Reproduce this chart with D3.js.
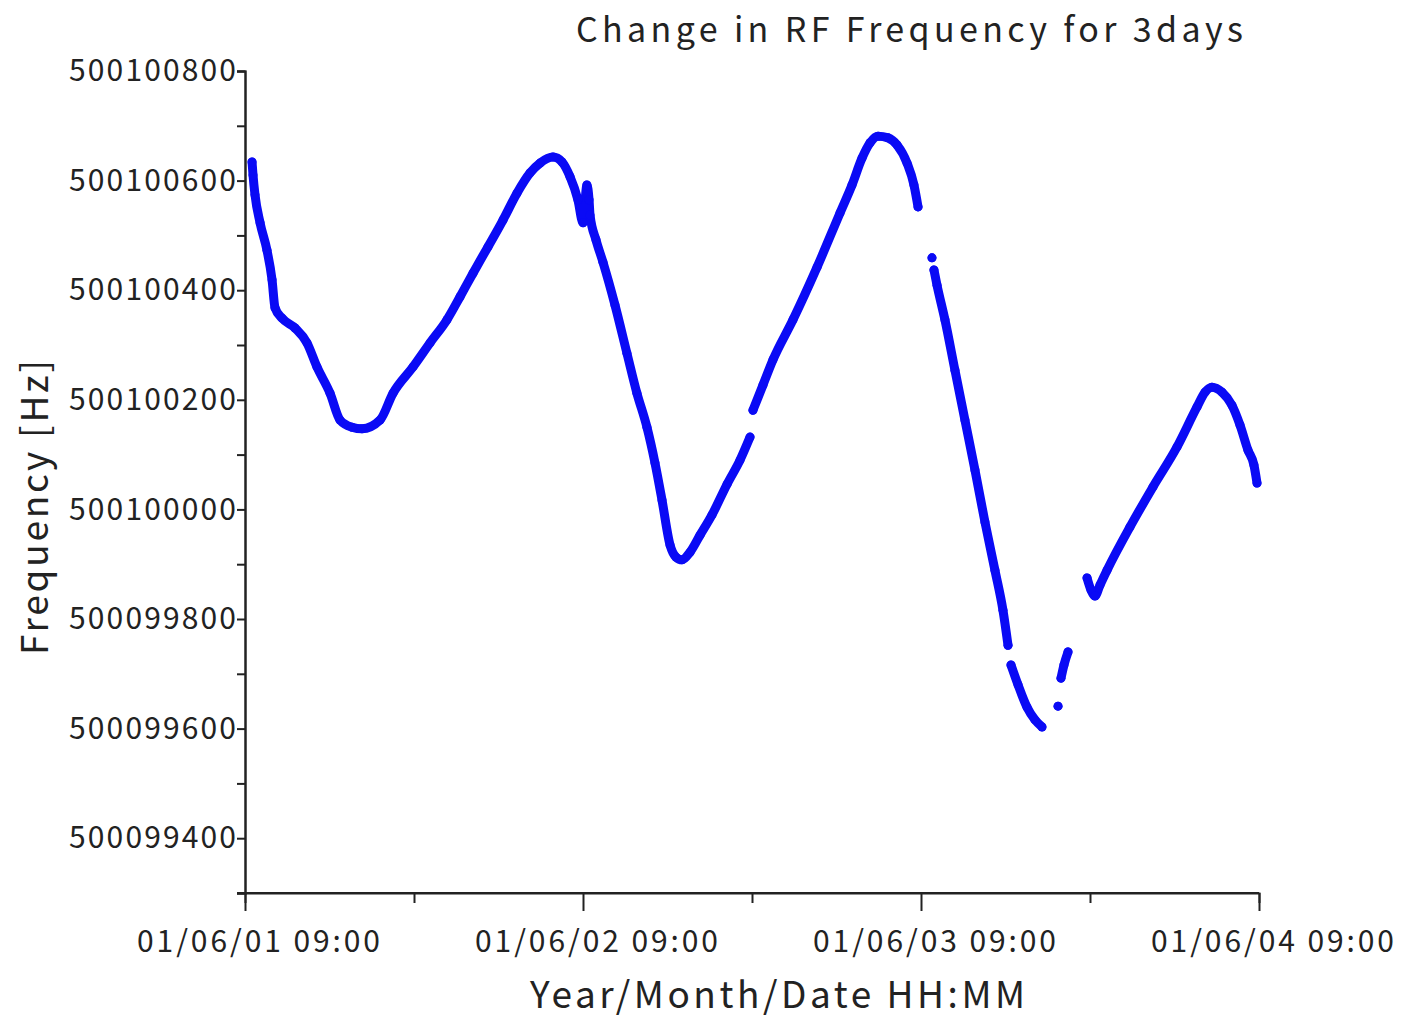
<!DOCTYPE html>
<meta charset="utf-8">
<body style="margin:0;background:#fff">
<div id="chart"></div>
<style>
  text { font-family: "Noto Sans CJK JP", "Noto Sans", sans-serif; fill: #222; }
  .tick text { font-size: 30px; }
  .domain, .tick line { stroke: #222; stroke-width: 2; }
</style>
<script src="https://cdn.jsdelivr.net/npm/d3@7"></script>
<script>
    // hours after 01/06/01 09:00, and measured RF frequency [Hz]; null = gap in the record
    var hours = [0.50, 0.57, 0.71, 1.07, 1.56, 1.92, 2.13, 2.63, 3.55, 4.40, 5.11, 6.04, 6.75, 7.60, 8.31,
                 9.59, 10.51, 11.93, 13.14, 14.34, 15.27, 16.19, 17.25, 18.32, 19.31, 20.24, 20.95, 21.87,
                 22.51, 23.08, 23.64, 24.00, 24.28, 24.43, 24.50, 24.92, 25.42, 26.27, 27.12, 27.83, 28.54,
                 29.11, 29.61, 30.18, 30.60, 31.03, 31.60, 32.31, 33.16, 34.23, 35.15, 35.86,
                 35.95,
                 36.07, 36.78, 37.49, 38.91, 40.62, 42.25, 43.10, 43.81, 44.38, 44.95, 45.66, 46.30, 47.01,
                 47.50, 47.79,
                 48.30,
                 48.78,
                 48.85,
                 48.92, 49.14, 49.70, 50.41, 51.12, 51.83, 52.54, 53.25, 53.82, 54.18,
                 54.28,
                 54.39, 54.89, 55.53, 56.09, 56.59,
                 57.20,
                 57.73,
                 57.85,
                 57.94, 58.15, 58.44,
                 59.10,
                 59.79, 60.07, 60.36, 60.71, 61.21, 62.84, 64.47, 66.18, 67.60, 68.17, 68.66, 69.37, 70.08,
                 70.65, 71.22, 71.64, 71.86];
    var freqs = [500100634, 500100610, 500100574, 500100523, 500100473, 500100419, 500100368, 500100349,
                 500100331, 500100304, 500100260, 500100212, 500100163, 500100150, 500100147,
                 500100163, 500100212, 500100260, 500100304, 500100346, 500100388, 500100431, 500100479,
                 500100528, 500100577, 500100614, 500100632, 500100643, 500100634, 500100607, 500100565,
                 500100523, 500100592, 500100565, 500100537, 500100492, 500100451, 500100373, 500100285,
                 500100212, 500100150, 500100085, 500100017, 500099935, 500099913, 500099908, 500099922,
                 500099953, 500099990, 500100046, 500100090, 500100132,
                 null,
                 500100181, 500100227, 500100273, 500100346, 500100442, 500100541, 500100592, 500100641,
                 500100669, 500100681, 500100678, 500100665, 500100632, 500100592, 500100552,
                 null,
                 500100459,
                 null,
                 500100437, 500100409, 500100346, 500100254, 500100163, 500100072, 500099977, 500099889,
                 500099816, 500099752,
                 null,
                 500099716, 500099680, 500099639, 500099616, 500099603,
                 null,
                 500099641,
                 null,
                 500099692, 500099716, 500099740,
                 null,
                 500099875, 500099853, 500099842, 500099862, 500099889, 500099968, 500100041, 500100114,
                 500100187, 500100214, 500100223, 500100214, 500100190, 500100154, 500100108, 500100081,
                 500100048];

    var yMajor = [500099400, 500099600, 500099800, 500100000, 500100200, 500100400, 500100600, 500100800];
    var yMinor = [500099300, 500099500, 500099700, 500099900, 500100100, 500100300, 500100500, 500100700];
    var xMajorHours = [0, 24, 48, 72];
    var xMinorHours = [12, 36, 60];

    var title = "Change in RF Frequency for 3days";
    var xTitle = "Year/Month/Date HH:MM";
    var yTitle = "Frequency [Hz]";

    var width = 1401;
    var height = 1018;
    var margin = {top: 71, right: 142, bottom: 125, left: 245};
    var t0 = new Date(2001, 5, 1, 9, 0);
    function toDate(h) { return new Date(t0.getTime() + h * 3600000); }

    var data = hours.map(function(h, i){ return {t: toDate(h), f: freqs[i]}; });

    var x = d3.scaleTime()
        .domain([t0, toDate(72)])
        .range([margin.left, width - margin.right]);
    var y = d3.scaleLinear()
        .domain([500099300, 500100800])
        .range([height - margin.bottom, margin.top]);

    var svg = d3.select("#chart").append("svg")
        .attr("width", width)
        .attr("height", height);

    // minor ticks first, then the labelled ones
    svg.append("g")
        .attr("transform", "translate(" + margin.left + ",0)")
        .call(d3.axisLeft(y).tickValues(yMinor).tickSize(8).tickFormat(""));
    svg.append("g")
        .attr("class", "yaxis")
        .attr("transform", "translate(" + margin.left + ",0)")
        .call(d3.axisLeft(y).tickValues(yMajor).tickSize(8).tickPadding(1).tickFormat(d3.format("d")));
    svg.selectAll(".yaxis .tick text")
        .attr("textLength", 167)
        .attr("lengthAdjust", "spacing");

    svg.append("g")
        .attr("transform", "translate(0," + (height - margin.bottom) + ")")
        .call(d3.axisBottom(x).tickValues(xMinorHours.map(toDate)).tickSize(10).tickFormat(""));
    svg.append("g")
        .attr("class", "xaxis")
        .attr("transform", "translate(0," + (height - margin.bottom) + ")")
        .call(d3.axisBottom(x).tickValues(xMajorHours.map(toDate)).tickSize(18).tickPadding(20)
            .tickFormat(d3.timeFormat("%y/%m/%d %H:%M")));
    svg.selectAll(".xaxis .tick text")
        .attr("dx", 13)
        .attr("textLength", 243)
        .attr("lengthAdjust", "spacing");
    // x axis line reaches out to the bottom y tick
    svg.selectAll(".xaxis .domain").attr("d", "M" + (margin.left - 8) + ",0H" + (width - margin.right));

    var line = d3.line()
        .defined(function(d){ return d.f !== null; })
        .curve(d3.curveMonotoneX)
        .x(function(d){ return x(d.t); })
        .y(function(d){ return y(d.f); });

    svg.append("path")
        .datum(data)
        .attr("fill", "none")
        .attr("stroke", "#0a0af5")
        .attr("stroke-width", 9)
        .attr("stroke-linecap", "round")
        .attr("stroke-linejoin", "round")
        .attr("d", line);

    svg.selectAll("circle.pt")
        .data(data.filter(function(d){ return d.f !== null; }))
        .enter()
        .append("circle")
        .attr("class", "pt")
        .attr("cx", function(d){ return x(d.t); })
        .attr("cy", function(d){ return y(d.f); })
        .attr("r", 4.5)
        .attr("fill", "#0a0af5");

    svg.append("text")
        .attr("x", 576)
        .attr("y", 42)
        .attr("textLength", 667)
        .attr("lengthAdjust", "spacing")
        .style("font-size", "34px")
        .text(title);

    svg.append("text")
        .attr("x", 530)
        .attr("y", 1008)
        .attr("textLength", 495)
        .attr("lengthAdjust", "spacing")
        .style("font-size", "37px")
        .text(xTitle);

    svg.append("text")
        .attr("transform", "translate(48,655) rotate(-90)")
        .attr("textLength", 295)
        .attr("lengthAdjust", "spacing")
        .style("font-size", "37px")
        .text(yTitle);
</script>
</body>
